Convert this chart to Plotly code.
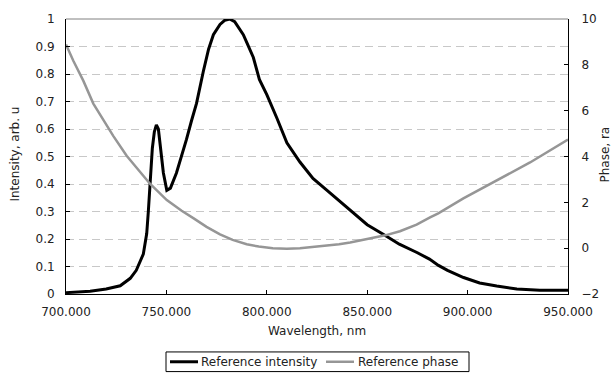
import plotly.graph_objects as go

# ---------------- data ----------------
wl_intensity = [700, 705, 712, 720, 727, 732, 735, 738.5, 740.2, 741, 742, 743, 744, 745,
                746, 747, 748.5, 750.2, 752, 755, 757.5, 760, 762.5, 765, 768.4, 771,
                773.4, 776.7, 779, 781.5, 784, 786.5, 788.3, 790, 793.3, 796.3, 800, 805,
                810, 816.5, 823, 830, 836.5, 843, 850, 859, 866, 875, 881, 885.5, 890,
                898, 906, 914.5, 924.5, 936, 950]
intensity = [0.005, 0.006, 0.01, 0.018, 0.03, 0.057, 0.086, 0.145, 0.22, 0.3, 0.42, 0.53,
             0.59, 0.615, 0.6, 0.53, 0.44, 0.377, 0.385, 0.44, 0.5, 0.562, 0.63, 0.693,
             0.81, 0.89, 0.943, 0.98, 0.995, 1.0, 0.99, 0.965, 0.943, 0.915, 0.86, 0.78,
             0.725, 0.64, 0.55, 0.48, 0.42, 0.377, 0.336, 0.294, 0.252, 0.213, 0.181,
             0.15, 0.127, 0.104, 0.086, 0.06, 0.04, 0.029, 0.018, 0.014, 0.014]

wl_phase = [700, 703.7, 708.6, 713.6, 718.6, 723.6, 730.2, 736.9, 741.8, 750.2, 757.6,
            763.4, 770, 776.7, 783, 790, 796, 803, 810, 816.5, 823, 830, 836, 841.5, 850,
            859, 866.3, 874.6, 881.3, 885.4, 897.9, 914.5, 931.1, 950]
phase = [8.89, 8.17, 7.31, 6.31, 5.6, 4.89, 4.03, 3.31, 2.81, 2.1, 1.63, 1.31, 0.93, 0.6,
         0.36, 0.17, 0.07, 0.0, -0.02, 0.0, 0.05, 0.1, 0.17, 0.25, 0.39, 0.56, 0.74, 1.03,
         1.34, 1.52, 2.17, 2.96, 3.74, 4.74]

x_ticks = [700, 750, 800, 850, 900, 950]
x_tick_labels = ["700.000", "750.000", "800.000", "850.000", "900.000", "950.000"]
y_ticks = [0, 0.1, 0.2, 0.3, 0.4, 0.5, 0.6, 0.7, 0.8, 0.9, 1]
y_tick_labels = ["0", "0.1", "0.2", "0.3", "0.4", "0.5", "0.6", "0.7", "0.8", "0.9", "1"]
y2_ticks = [-2, 0, 2, 4, 6, 8, 10]
y2_tick_labels = ["\u22122", "0", "2", "4", "6", "8", "10"]

series_names = ["Reference intensity", "Reference phase"]
series_colors = ["#000000", "#969696"]

# ---------------- layout geometry (pixels) ----------------
W, H = 611, 376
L, R, T, B = 66, 568, 14, 294
FONT = "DejaVu Sans"
TXT = "#222222"


def px(xp):
    return (xp - L) / (R - L)


def py(yp):
    return (B - yp) / (B - T)


fig = go.Figure()
fig.add_trace(go.Scatter(x=wl_intensity, y=intensity, mode="lines", name=series_names[0],
                         line=dict(color=series_colors[0], width=3), showlegend=False))
fig.add_trace(go.Scatter(x=wl_phase, y=phase, mode="lines", name=series_names[1], yaxis="y2",
                         line=dict(color=series_colors[1], width=2.5), showlegend=False))

tickfont = dict(family=FONT, size=12, color=TXT)
fig.update_layout(
    width=W, height=H,
    margin=dict(l=L, r=W - R, t=T, b=H - B, pad=0),
    paper_bgcolor="white", plot_bgcolor="white",
    showlegend=False,
    xaxis=dict(range=[700, 950], tickvals=x_ticks, ticktext=x_tick_labels,
               ticks="inside", ticklen=4, tickcolor="black", showline=True,
               linecolor="black", linewidth=1, showgrid=False, zeroline=False,
               tickfont=tickfont, ticklabelstandoff=7),
    yaxis=dict(range=[0, 1], tickvals=y_ticks, ticktext=y_tick_labels,
               ticks="inside", ticklen=4, tickcolor="black", showline=True,
               linecolor="black", linewidth=1, showgrid=True, gridcolor="#c8c8c8",
               griddash="8px,5px", gridwidth=1, zeroline=False, tickfont=tickfont,
               ticklabelstandoff=8),
    yaxis2=dict(range=[-2, 10], tickvals=y2_ticks, ticktext=y2_tick_labels,
                overlaying="y", side="right", ticks="inside", ticklen=4,
                tickcolor="black", showline=True, linecolor="black", linewidth=1,
                showgrid=False, zeroline=False, tickfont=tickfont, ticklabelstandoff=10),
)

# top border of plot area
fig.add_shape(type="line", xref="paper", yref="paper", x0=0, x1=1, y0=1, y1=1,
              line=dict(color="#808080", width=1), layer="below")

# axis titles
title_font = dict(family=FONT, size=12, color=TXT)
fig.add_annotation(text="Wavelength, nm", xref="paper", yref="paper", x=px(317), y=py(332),
                   xanchor="center", yanchor="middle", showarrow=False, font=title_font)
fig.add_annotation(text="Intensity, arb. u", xref="paper", yref="paper", x=px(15), y=py(152),
                   xanchor="center", yanchor="middle", textangle=-90, showarrow=False,
                   font=title_font)
fig.add_annotation(text="Phase, ra", xref="paper", yref="paper", x=px(605), y=py(152),
                   xanchor="center", yanchor="middle", textangle=-90, showarrow=False,
                   font=title_font)

# legend (drawn manually)
fig.add_shape(type="rect", xref="paper", yref="paper", x0=px(166), x1=px(469),
              y0=py(373), y1=py(353), line=dict(color="black", width=1),
              fillcolor="white")
ly = py(363)
fig.add_shape(type="line", xref="paper", yref="paper", x0=px(170), x1=px(198), y0=ly, y1=ly,
              line=dict(color=series_colors[0], width=3))
fig.add_annotation(text=series_names[0], xref="paper", yref="paper", x=px(199), y=ly,
                   xanchor="left", yanchor="middle", showarrow=False, font=title_font)
fig.add_shape(type="line", xref="paper", yref="paper", x0=px(326), x1=px(354), y0=ly, y1=ly,
              line=dict(color=series_colors[1], width=2.5))
fig.add_annotation(text=series_names[1], xref="paper", yref="paper", x=px(356), y=ly,
                   xanchor="left", yanchor="middle", showarrow=False, font=title_font)

fig.write_html("out.html",
               config={"displayModeBar": False},
               post_script="document.body.style.margin='0px';"
                           "document.body.style.padding='0px';"
                           "document.body.style.overflow='hidden';")
